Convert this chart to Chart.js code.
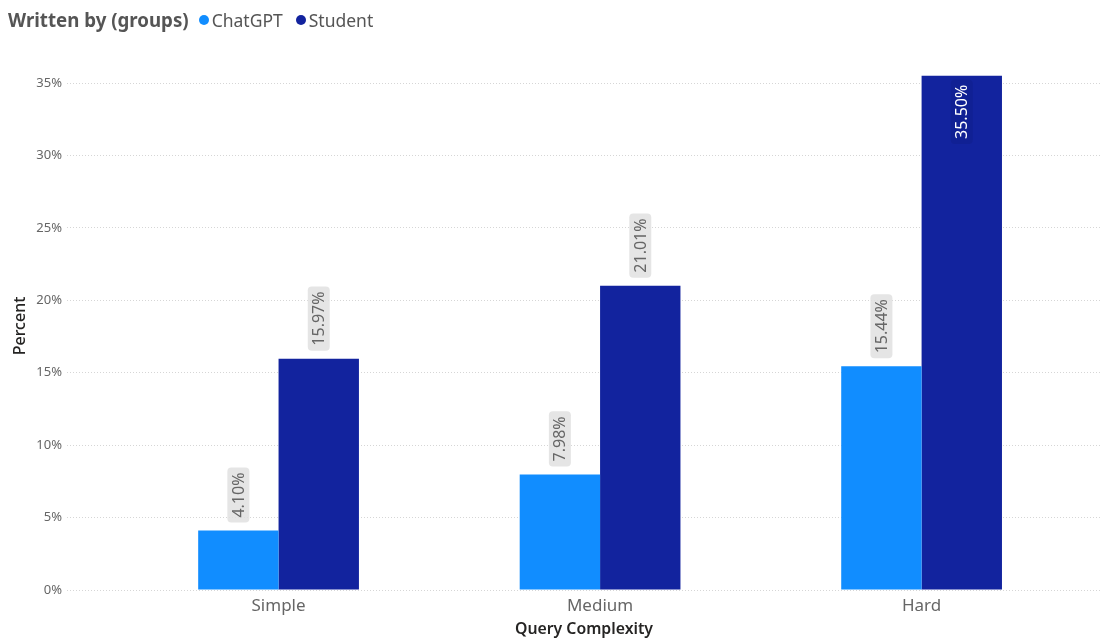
<!DOCTYPE html>
<html>
<head>
<meta charset="utf-8">
<script src="https://cdn.jsdelivr.net/npm/chart.js@4"></script>
<style>
  html, body { margin: 0; padding: 0; background: #fff; }
  #wrap { position: relative; width: 1101px; height: 639px; }
  #legend { position: absolute; left: 8px; top: 7px; font-family: 'Segoe UI', 'Noto Sans', sans-serif; font-size: 17.5px; color: #555; display: flex; align-items: center; white-space: nowrap; }
  #legend .ttl { font-weight: bold; font-size: 18.7px; color: #555; margin-right: 10px; }
  #legend .item { display: flex; align-items: center; margin-right: 13px; }
  #legend .dot { width: 10px; height: 10px; border-radius: 50%; margin-right: 3px; }
</style>
</head>
<body>
<div id="wrap">
  <div id="legend"></div>
  <canvas id="c" width="1101" height="639"></canvas>
</div>
<script>
const categories = ['Simple', 'Medium', 'Hard'];
const seriesNames = ['ChatGPT', 'Student'];
const chatgptValues = [4.10, 7.98, 15.44];
const studentValues = [15.97, 21.01, 35.50];
const yTickValues = [0, 5, 10, 15, 20, 25, 30, 35];
const legendTitle = 'Written by (groups)';
const xTitle = 'Query Complexity';
const yTitle = 'Percent';

const colors = ['#118DFF', '#12239E'];
const FONT = "'Segoe UI', 'Noto Sans', sans-serif";

// legend row
const leg = document.getElementById('legend');
const t = document.createElement('span');
t.className = 'ttl'; t.textContent = legendTitle; leg.appendChild(t);
seriesNames.forEach((n, i) => {
  const it = document.createElement('span'); it.className = 'item';
  const d = document.createElement('span'); d.className = 'dot'; d.style.background = colors[i];
  const s = document.createElement('span'); s.textContent = n;
  it.appendChild(d); it.appendChild(s); leg.appendChild(it);
});

function toPoints(vals) { return vals.map((v, i) => ({ x: i, y: v })); }

function roundRect(ctx, x, y, w, h, r) {
  ctx.beginPath();
  ctx.moveTo(x + r, y);
  ctx.lineTo(x + w - r, y); ctx.quadraticCurveTo(x + w, y, x + w, y + r);
  ctx.lineTo(x + w, y + h - r); ctx.quadraticCurveTo(x + w, y + h, x + w - r, y + h);
  ctx.lineTo(x + r, y + h); ctx.quadraticCurveTo(x, y + h, x, y + h - r);
  ctx.lineTo(x, y + r); ctx.quadraticCurveTo(x, y, x + r, y);
  ctx.closePath();
}

// rotated value labels above bars (inside the bar when there is no room)
const valueLabels = {
  id: 'valueLabels',
  afterDatasetsDraw(chart) {
    const ctx = chart.ctx;
    const top = chart.chartArea.top;
    chart.data.datasets.forEach((ds, di) => {
      const meta = chart.getDatasetMeta(di);
      meta.data.forEach((bar, i) => {
        const v = ds.data[i].y;
        const text = v.toFixed(2) + '%';
        ctx.save();
        ctx.font = '16px ' + FONT;
        const tw = ctx.measureText(text).width;
        const pad = 5, gap = 8, bw = 22;
        const boxLen = tw + pad * 2;
        const inside = bar.y - gap - boxLen < top;
        let boxTop;
        if (inside) { boxTop = bar.y + 4; }
        else { boxTop = bar.y - gap - boxLen; }
        ctx.fillStyle = inside ? 'rgba(0,0,40,0.08)' : 'rgba(225,225,225,0.85)';
        roundRect(ctx, bar.x - bw / 2, boxTop, bw, boxLen, 4);
        ctx.fill();
        ctx.translate(bar.x, boxTop + boxLen / 2);
        ctx.rotate(-Math.PI / 2);
        ctx.fillStyle = inside ? '#ffffff' : '#666666';
        ctx.textAlign = 'center';
        ctx.textBaseline = 'middle';
        ctx.fillText(text, 0, 1);
        ctx.restore();
      });
    });
  }
};

new Chart(document.getElementById('c'), {
  type: 'bar',
  data: {
    datasets: [
      { label: seriesNames[0], data: toPoints(chatgptValues), backgroundColor: colors[0], categoryPercentage: 0.5, barPercentage: 1.0 },
      { label: seriesNames[1], data: toPoints(studentValues), backgroundColor: colors[1], categoryPercentage: 0.5, barPercentage: 1.0 }
    ]
  },
  options: {
    responsive: false,
    animation: false,
    layout: { padding: { top: 62, right: 0, bottom: 0, left: 0 } },
    plugins: { legend: { display: false }, tooltip: { enabled: false } },
    scales: {
      x: {
        type: 'linear',
        offset: false,
        min: -0.658,
        max: 2.558,
        afterBuildTicks(scale) { scale.ticks = categories.map((c, i) => ({ value: i })); },
        afterFit(scale) { scale.height = 49; },
        grid: { display: false, drawTicks: false, offset: false },
        border: { display: false },
        ticks: {
          callback: (v) => categories[v],
          color: '#666',
          font: { family: FONT, size: 17 },
          padding: 6,
          maxRotation: 0,
          autoSkip: false
        },
        title: {
          display: true, text: xTitle, color: '#252423',
          font: { family: FONT, size: 15.8, weight: '600' },
          padding: { top: 0, bottom: 0 }
        }
      },
      y: {
        min: 0,
        max: 36.45,
        afterBuildTicks(scale) { scale.ticks = yTickValues.map(v => ({ value: v })); },
        afterFit(scale) { scale.width = 67; },
        grid: { color: '#d6d6d6', lineWidth: 1, drawTicks: false },
        border: { display: false, dash: [1, 2] },
        ticks: {
          callback: (v) => v + '%',
          color: '#666',
          font: { family: FONT, size: 13 },
          padding: 5
        },
        title: {
          display: true, text: yTitle, color: '#252423',
          font: { family: FONT, size: 16, weight: '500' },
          padding: { top: 11, bottom: 0 }
        }
      }
    }
  },
  plugins: [valueLabels]
});
</script>
</body>
</html>
